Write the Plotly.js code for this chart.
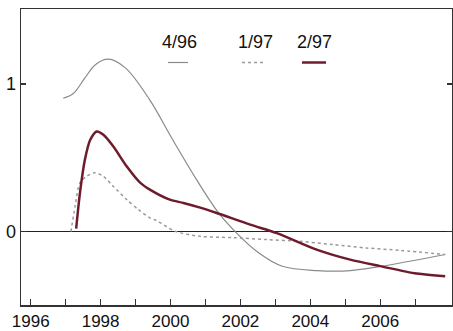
<!DOCTYPE html>
<html><head><meta charset="utf-8">
<script src="https://cdn.plot.ly/plotly-3.0.1.min.js"></script>
<style>html,body{margin:0;padding:0;background:#fff}#c{width:453px;height:331px}</style>
</head><body><div id="c"></div>
<script>
const seriesNames = ["4/96", "1/97", "2/97"];
const x496 = [1996.93,1997.22,1997.55,1997.85,1998.22,1998.70,1999.41,2000.03,2000.75,2001.37,2001.85,2002.5,2003.2,2004.2,2005.14,2006.0,2007.86];
const y496 = [0.903,0.935,1.04,1.13,1.167,1.11,0.89,0.635,0.35,0.128,0.0,-0.14,-0.235,-0.264,-0.264,-0.236,-0.155];
const x197 = [1997.15,1997.27,1997.41,1997.60,1997.84,1998.08,1998.36,1998.75,1999.08,1999.41,1999.6,2000.13,2000.85,2001.79,2002.75,2003.71,2004.65,2005.61,2006.57,2007.86];
const y197 = [0.0,0.171,0.331,0.374,0.399,0.374,0.307,0.216,0.149,0.093,0.075,0.002,-0.032,-0.041,-0.054,-0.066,-0.088,-0.111,-0.127,-0.155];
const x297 = [1997.30,1997.41,1997.55,1997.70,1997.89,1998.08,1998.36,1998.75,1999.13,1999.41,1999.98,2000.37,2000.85,2001.32,2002.28,2003.04,2004.18,2005.14,2006.0,2007.04,2007.86];
const y297 = [0.02,0.264,0.486,0.62,0.678,0.655,0.577,0.44,0.331,0.284,0.216,0.194,0.162,0.126,0.047,-0.01,-0.122,-0.19,-0.234,-0.284,-0.302];
const xTickVals = [1996,1997,1998,1999,2000,2001,2002,2003,2004,2005,2006,2007];
const xTickText = ["1996","","1998","","2000","","2002","","2004","","2006",""];
const yTickVals = [0,1];
const yTickText = ["0","1"];

const c496 = "#8a8a8a", c197 = "#9a9a9a", c297 = "#6e1c2c";
const traces = [
  {x:x496,y:y496,mode:"lines",line:{color:c496,width:1.2,shape:"spline",smoothing:1},name:seriesNames[0]},
  {x:x197,y:y197,mode:"lines",line:{color:c197,width:1.5,dash:"dot",shape:"spline",smoothing:0.8},name:seriesNames[1]},
  {x:x297,y:y297,mode:"lines",line:{color:c297,width:2.5,shape:"spline",smoothing:0.8},name:seriesNames[2]}
];
const font = {family:"Liberation Sans, Arial, sans-serif",size:18,color:"#111"};
const tfont = {family:"Liberation Sans, Arial, sans-serif",size:17,color:"#111"};
const L=21,W=431,T=9,H=296;
function px(xp){return (xp-L)/W;}
function py(yp){return 1-(yp-T)/H;}
const layout = {
  width:453,height:331,
  margin:{l:21,r:1,t:9,b:26},
  paper_bgcolor:"#fff",plot_bgcolor:"#fff",
  showlegend:false,
  font:font,
  xaxis:{range:[1995.722,2008.054],tickvals:xTickVals,ticktext:xTickText,ticks:"inside",ticklen:6,tickwidth:1.3,tickcolor:"#333",
    showline:true,linecolor:"#333",linewidth:1.5,mirror:true,showgrid:false,zeroline:false,tickfont:tfont},
  yaxis:{range:[-0.497,1.507],tickvals:yTickVals,ticktext:yTickText,ticks:"inside",ticklen:5,tickwidth:1.3,tickcolor:"#333",
    showline:true,linecolor:"#333",linewidth:1.5,mirror:"ticks",showgrid:false,zeroline:true,zerolinecolor:"#222",zerolinewidth:1.6,tickfont:font},
  annotations:[
    {text:seriesNames[0],x:px(179),y:py(42),xref:"paper",yref:"paper",xanchor:"center",yanchor:"middle",showarrow:false,font:font},
    {text:seriesNames[1],x:px(255),y:py(42),xref:"paper",yref:"paper",xanchor:"center",yanchor:"middle",showarrow:false,font:font},
    {text:seriesNames[2],x:px(314),y:py(42),xref:"paper",yref:"paper",xanchor:"center",yanchor:"middle",showarrow:false,font:font}
  ],
  shapes:[
    {type:"line",xref:"paper",yref:"paper",x0:px(168),x1:px(188),y0:py(62.5),y1:py(62.5),line:{color:c496,width:1.2}},
    {type:"line",xref:"paper",yref:"paper",x0:px(242),x1:px(266),y0:py(62.5),y1:py(62.5),line:{color:c197,width:1.5,dash:"dot"}},
    {type:"line",xref:"paper",yref:"paper",x0:px(302),x1:px(326),y0:py(62.5),y1:py(62.5),line:{color:c297,width:2.5}}
  ]
};
Plotly.newPlot("c",traces,layout,{staticPlot:true});
</script></body></html>
